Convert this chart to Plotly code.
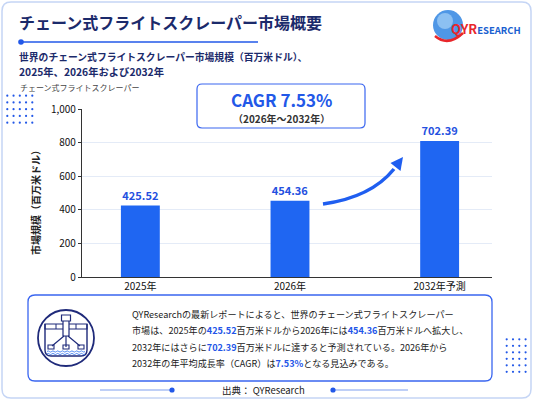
import plotly.graph_objects as go

# chart data
categories = ["2025年", "2026年", "2032年予測"]
bar_heights = [425.52, 454.36, 810]  # as drawn in the picture
bar_labels = ["425.52", "454.36", "702.39"]
y_ticks = [0, 200, 400, 600, 800, 1000]
y_tick_labels = ["0", "200", "400", "600", "800", "1,000"]

cagr_text = "CAGR 7.53%"
cagr_period = "（2026年～2032年）"
title_text = "チェーン式フライトスクレーパー市場概要"
subtitle_1 = "世界のチェーン式フライトスクレーパー市場規模（百万米ドル）、"
subtitle_2 = "2025年、2026年および2032年"
series_name = "チェーン式フライトスクレーパー"
y_title = "市場規模（百万米ドル）"
source_text = "出典： QYResearch"

B_ = "<b style='color:#2355e8'>"
summary_lines = [
    "QYResearchの最新レポートによると、世界のチェーン式フライトスクレーパー",
    "市場は、2025年の" + B_ + "425.52</b>百万米ドルから2026年には" + B_ + "454.36</b>百万米ドルへ拡大し、",
    "2032年にはさらに" + B_ + "702.39</b>百万米ドルに達すると予測されている。2026年から",
    "2032年の年平均成長率（CAGR）は" + B_ + "7.53%</b>となる見込みである。",
]

# pixel layout helpers
W, H = 533, 400
L, R, T, B = 82, 41, 109, 123
PW, PH = W - L - R, H - T - B
FONT = "Noto Sans CJK JP"
NAVY = "#1b2a6b"
BLUE = "#2258e8"


def px(x):
    return (x - L) / PW


def py(y):
    return (H - B - y) / PH


def rrect(x0, y0, x1, y1, r):
    rx, ry = r / PW, r / PH
    a0, a1, b0, b1 = px(x0), px(x1), py(y0), py(y1)
    return (f"M{a0+rx},{b0} L{a1-rx},{b0} Q{a1},{b0} {a1},{b0-ry} "
            f"L{a1},{b1+ry} Q{a1},{b1} {a1-rx},{b1} L{a0+rx},{b1} "
            f"Q{a0},{b1} {a0},{b1+ry} L{a0},{b0-ry} Q{a0},{b0} {a0+rx},{b0} Z")


def pts(*p):
    return " ".join(f"{'M' if i == 0 else 'L'}{px(x)},{py(y)}" for i, (x, y) in enumerate(p))


shapes = []
annos = []


def circle(cx, cy, r, fill=None, line=None, lw=1):
    shapes.append(dict(type="circle", xref="paper", yref="paper",
                       x0=px(cx - r), x1=px(cx + r), y0=py(cy + r), y1=py(cy - r),
                       fillcolor=fill or "rgba(0,0,0,0)",
                       line=dict(color=line or "rgba(0,0,0,0)", width=lw)))


def path(d, line=None, lw=1, fill=None, layer="above"):
    shapes.append(dict(type="path", xref="paper", yref="paper", path=d, layer=layer,
                       fillcolor=fill or "rgba(0,0,0,0)",
                       line=dict(color=line or "rgba(0,0,0,0)", width=lw)))


def text(x, y, s, size, color="#222", xanchor="left", angle=0):
    annos.append(dict(x=px(x), y=py(y), xref="paper", yref="paper", text=s,
                      showarrow=False, xanchor=xanchor, yanchor="middle", textangle=angle,
                      font=dict(family=FONT, size=size, color=color)))


# outer frame
path(rrect(2, 2, 531, 398, 9), line="#c5d5f5", lw=1.5, layer="below")

# title and underline
text(17, 22, "<b>" + title_text + "</b>", 16, NAVY)
path(pts((21, 42), (258, 42)), line=BLUE, lw=1.3)
circle(21, 42, 2.8, fill=BLUE)
text(17, 57, "<b>" + subtitle_1 + "</b>", 9.8, NAVY)
text(17, 72, "<b>" + subtitle_2 + "</b>", 10.3, NAVY)
text(18, 87, series_name, 8, "#444")

# logo
circle(448, 25, 15, fill="#4f97e6")
circle(445, 21, 8, fill="#8cc0f2")
path(f"M{px(435)},{py(36)} Q{px(448)},{py(47)} {px(463)},{py(33)}", line="#e8262a", lw=2.5)
text(449, 29, "<b><span style='color:#e8262a'>QYR</span>"
     "<span style='font-size:9.5px;color:#1a5fd0'>ESEARCH</span></b>", 13, "#e8262a")

# dot grids
for i in range(5):
    for j in range(5):
        circle(7.3 + i * 6.25, 95.7 + j * 6.75, 1.1, fill=BLUE)
for i in range(4):
    for j in range(6):
        circle(506.7 + i * 6.3, 339.3 + j * 6.5, 1.1, fill=BLUE)

# CAGR box
path(rrect(197, 84, 365, 128, 5), line="#3a66f0", lw=1.2, fill="white")
text(281, 99.5, "<b>" + cagr_text + "</b>", 17, BLUE, xanchor="center")
text(281, 118.5, "<b>" + cagr_period + "</b>", 10, "#333", xanchor="center")

# growth arrow
path(f"M{px(323)},{py(204)} C{px(352)},{py(200)} {px(377)},{py(190)} {px(394)},{py(169)}",
     line="#1f5ef0", lw=3.5)
path(pts((403, 157), (400.5, 171), (390.5, 163)) + " Z", fill="#1f5ef0")

# y title
text(35, 200, "<b>" + y_title + "</b>", 10, "#222", xanchor="center", angle=-90)

# summary box
path(rrect(28, 295, 492, 381, 7), line="#3a66f0", lw=1.3, fill="white")
for k, line in enumerate(summary_lines):
    text(130, 314 + k * 16.3, line, 9.1, "#222")

# icon
ICON = "#1f2a7a"
circle(66, 338, 28, line=ICON, lw=1.8)
path(f"M{px(45)},{py(324)} L{px(45)},{py(350)} Q{px(45)},{py(356)} {px(51)},{py(356)} "
     f"L{px(81)},{py(356)} Q{px(87)},{py(356)} {px(87)},{py(350)} L{px(87)},{py(324)}",
     line=ICON, lw=1.4)
path(pts((45, 324), (87, 324), (87, 329), (45, 329)) + " Z", line=ICON, lw=1.2)
path(pts((56, 324), (56, 329)) + " " + pts((76, 324), (76, 329)), line=ICON, lw=1)
path(pts((63, 320), (69, 320), (69, 336), (63, 336)) + " Z", line=ICON, lw=1.2, fill="white")
path(pts((61.5, 315), (70.5, 315), (70.5, 321), (61.5, 321)) + " Z", line=ICON, lw=1.2, fill="white")
path(pts((64, 336), (52, 346)) + " " + pts((68, 336), (80, 346)) + " "
     + pts((66, 336), (66, 347)), line=ICON, lw=1.2)
path(pts((48, 345), (54, 345), (54, 349), (48, 349)) + " Z", line=ICON, lw=1.1)
path(pts((78, 345), (84, 345), (84, 349), (78, 349)) + " Z", line=ICON, lw=1.1)
path(pts((63, 345), (69, 345), (69, 349), (63, 349)) + " Z", line=ICON, lw=1.1)
for wy in (351.5, 354):
    d = f"M{px(47)},{py(wy)}"
    for s in range(8):
        x0 = 47 + s * 4.75
        d += f" Q{px(x0 + 1.2)},{py(wy - 1.2)} {px(x0 + 2.4)},{py(wy)} Q{px(x0 + 3.6)},{py(wy + 1.2)} {px(x0 + 4.75)},{py(wy)}"
    path(d, line="#3a7af0", lw=0.9)

# footer
text(263, 390, source_text, 9.5, "#222", xanchor="center")
path(pts((100, 390), (172, 390)), line="#7f9ff0", lw=1.2)
path(pts((333, 390), (408, 390)), line="#7f9ff0", lw=1.2)
circle(172, 390, 2.6, fill=BLUE)
circle(333, 390, 2.6, fill=BLUE)

fig = go.Figure(go.Bar(
    x=categories, y=bar_heights, text=bar_labels, textposition="outside",
    texttemplate="<b>%{text}</b>", cliponaxis=False, width=0.26,
    marker=dict(color="#1f66f2", line=dict(width=0)),
    textfont=dict(family=FONT, size=11, color="#2450e0"),
    hoverinfo="skip",
))

fig.update_layout(
    width=W, height=H, margin=dict(l=L, r=R, t=T, b=B),
    paper_bgcolor="white", plot_bgcolor="white", showlegend=False,
    shapes=shapes, annotations=annos,
    font=dict(family=FONT, color="#222"),
    xaxis=dict(range=[-0.39, 2.35], showline=True, linecolor="#333", linewidth=1.2,
               tickfont=dict(size=10, color="#111"), ticks="", fixedrange=True),
    yaxis=dict(range=[0, 1000], tickvals=y_ticks, ticktext=y_tick_labels,
               showline=True, linecolor="#333", linewidth=1.2, ticks="outside",
               ticklen=3, tickcolor="#333", gridcolor="#e4ebf7", gridwidth=1,
               tickfont=dict(size=10, color="#111"), zeroline=False, fixedrange=True),
    bargap=0.5,
)

fig.write_html("out.html", config={"displayModeBar": False},
               post_script="document.body.style.margin='0';")
